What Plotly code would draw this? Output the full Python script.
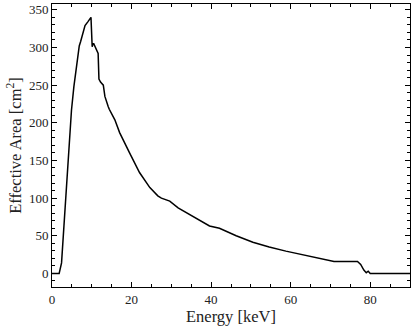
import plotly.graph_objects as go

energy = [0, 1.8, 2.4, 2.8, 3.3, 3.7, 4.1, 4.5, 4.9, 5.5, 6.2, 6.85, 7.2, 7.85, 8.3, 9.0, 9.5, 9.8, 10.1, 10.3, 10.5, 11.2, 11.6, 11.8, 12.2, 12.9, 13.3, 14.1, 14.4, 15.8, 17.0, 19.5, 22.0, 24.6, 26.6, 27.5, 29.6, 31.7, 35.4, 39.6, 42.1, 46.3, 50.5, 54.6, 58.8, 63.0, 67.2, 68.0, 70.9, 76.8, 77.6, 78.4, 79.0, 79.5, 80.0, 90.0]
area = [0, 0, 14, 49, 89, 125, 160, 191, 217, 248, 275, 302, 308, 321, 329, 334, 339, 340, 301, 305, 305, 297, 292, 258, 254, 250, 235, 222, 218, 204, 187, 160, 134, 114, 103, 100, 96, 87, 76, 63, 60, 50, 41.5, 35, 29.6, 25, 20.8, 20, 16, 16, 12, 4.4, 1, 3, 0, 0]

x_ticks = [0, 20, 40, 60, 80]
y_ticks = [0, 50, 100, 150, 200, 250, 300, 350]

font_family = "Liberation Serif"

fig = go.Figure()
fig.add_trace(go.Scatter(x=energy, y=area, mode="lines",
                         line=dict(color="black", width=1.5), showlegend=False))

axis_common = dict(
    showgrid=False, zeroline=False, showline=True, linecolor="black", linewidth=1,
    mirror="ticks", ticks="inside", ticklen=5, tickwidth=1, tickcolor="black",
    tickfont=dict(family=font_family, size=13, color="#222"), automargin=False,
)

fig.update_xaxes(range=[0, 90], tickvals=x_ticks,
                 minor=dict(dtick=5, ticks="inside", ticklen=3, tickcolor="black", tickwidth=0.8),
                 title=dict(text="Energy [keV]", font=dict(family=font_family, size=16.5, color="#222"), standoff=4),
                 **axis_common)
fig.update_yaxes(range=[-18, 357.7], tickvals=y_ticks,
                 minor=dict(dtick=10, ticks="inside", ticklen=3, tickcolor="black", tickwidth=0.8),
                 title=dict(text="Effective Area [cm<sup>2</sup>]", font=dict(family=font_family, size=16.5, color="#222"), standoff=3),
                 **axis_common)

fig.update_layout(width=415, height=331, margin=dict(l=52, r=5, t=4, b=44),
                  plot_bgcolor="white", paper_bgcolor="white")

fig.write_html("out.html", config={"displayModeBar": False},
               post_script="document.body.style.margin='0px';")
